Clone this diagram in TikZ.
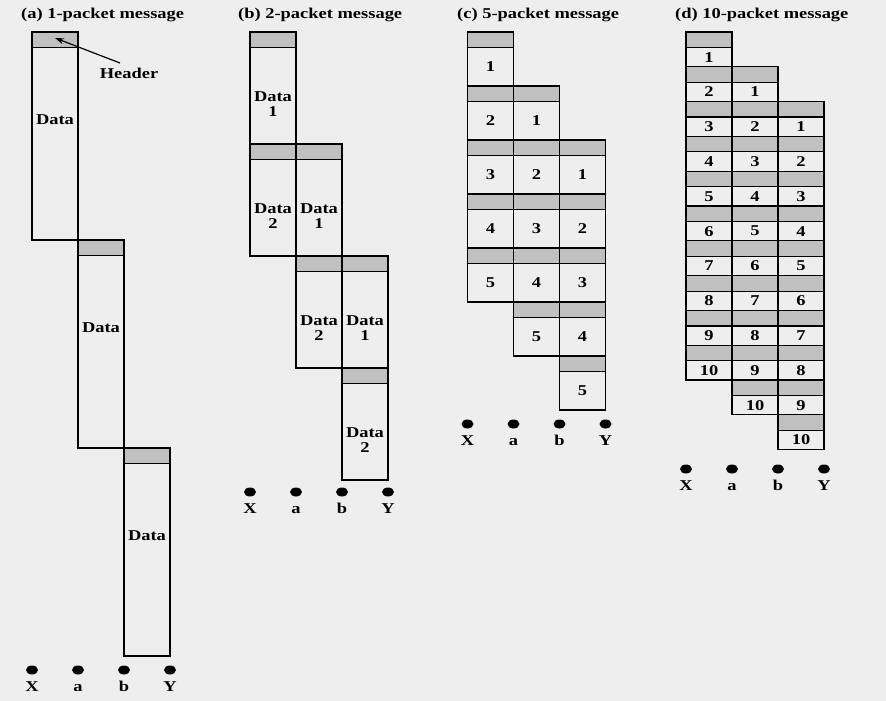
\documentclass[tikz,border=0pt]{standalone}
\usepackage{fontspec}
\setmainfont{Liberation Serif}[FakeStretch=1.23]
\usetikzlibrary{arrows.meta,shapes.geometric}
\definecolor{bgc}{RGB}{238,238,238}
\definecolor{hdrc}{RGB}{192,192,192}
\newcommand\mypkt[6]{%
  \draw[hdr] (#1,#2) rectangle (#1+46,#2+15.5);
  \draw[dat] (#1,#2+15.5) rectangle (#1+46,#2+#3);
  \node[txt] (#6) at (#1+23,#4) {#5};}
\begin{document}
\begin{tikzpicture}[x=1bp,y=-1bp,
  txt/.style={font=\fontsize{15bp}{15bp}\selectfont\bfseries, inner sep=0pt, align=center},
  hdr/.style={draw=black, fill=hdrc, line width=1.2bp},
  dat/.style={draw=black, fill=bgc, line width=1.2bp},
  dot/.style={ellipse, fill=black, minimum width=12bp, minimum height=9bp, inner sep=0pt}]
\fill[bgc] (0,0) rectangle (886,701);
\useasboundingbox (0,0) rectangle (886,701);
% titles
\node[txt, anchor=west] (ta) at (21,15) {(a) 1-packet message};
\node[txt, anchor=west] (tb) at (238,15) {(b) 2-packet message};
\node[txt, anchor=west] (tc) at (457,15) {(c) 5-packet message};
\node[txt, anchor=west] (td) at (675,15) {(d) 10-packet message};
% (a)
\foreach \c in {0,1,2} {
  \pgfmathsetmacro\xx{32+46*\c}
  \pgfmathsetmacro\yt{32+208*\c}
  \pgfmathsetmacro\ly{\yt+88}
  \mypkt{\xx}{\yt}{208}{\ly}{Data}{a-\c}
}
% (b)
\foreach \c in {0,1,2} {
  \foreach \p in {1,2} {
    \pgfmathsetmacro\xx{250+46*\c}
    \pgfmathsetmacro\yt{32+112*(\c+\p-1)}
    \pgfmathsetmacro\ly{\yt+72}
    \mypkt{\xx}{\yt}{112}{\ly}{Data\\\p}{b-\c-\p}
  }
}
% (c)
\foreach \c in {0,1,2} {
  \foreach \p in {1,...,5} {
    \pgfmathsetmacro\xx{467.5+46*\c}
    \pgfmathsetmacro\yt{32+54*(\c+\p-1)}
    \pgfmathsetmacro\ly{\yt+15.5+19.25}
    \mypkt{\xx}{\yt}{54}{\ly}{\p}{c-\c-\p}
  }
}
% (d)
\foreach \c in {0,1,2} {
  \foreach \p in {1,...,10} {
    \pgfmathsetmacro\xx{686+46*\c}
    \pgfmathsetmacro\yt{32+34.8*(\c+\p-1)}
    \pgfmathsetmacro\ly{\yt+15.5+9.65}
    \mypkt{\xx}{\yt}{34.8}{\ly}{\p}{d-\c-\p}
  }
}
% header label and arrow
\node[txt] (hdrlbl) at (129,73) {Header};
\coordinate (htail) at (120,63);
\coordinate (htip) at (55,38);
\draw[line width=1.2bp, -{Stealth[length=9bp,width=6bp]}] (htail) -- (htip);
% nodes X a b Y
\foreach \pn/\xs/\ys in {a/32/670, b/250/492, c/467.5/424, d/686/469} {
  \foreach \i/\l in {0/X,1/a,2/b,3/Y} {
    \node[dot] (\pn-dot\l) at (\xs+46*\i,\ys) {};
    \node[txt, anchor=base] (\pn-lab\l) at (\xs+46*\i,\ys+21) {\l};
  }
}
\end{tikzpicture}
\end{document}
